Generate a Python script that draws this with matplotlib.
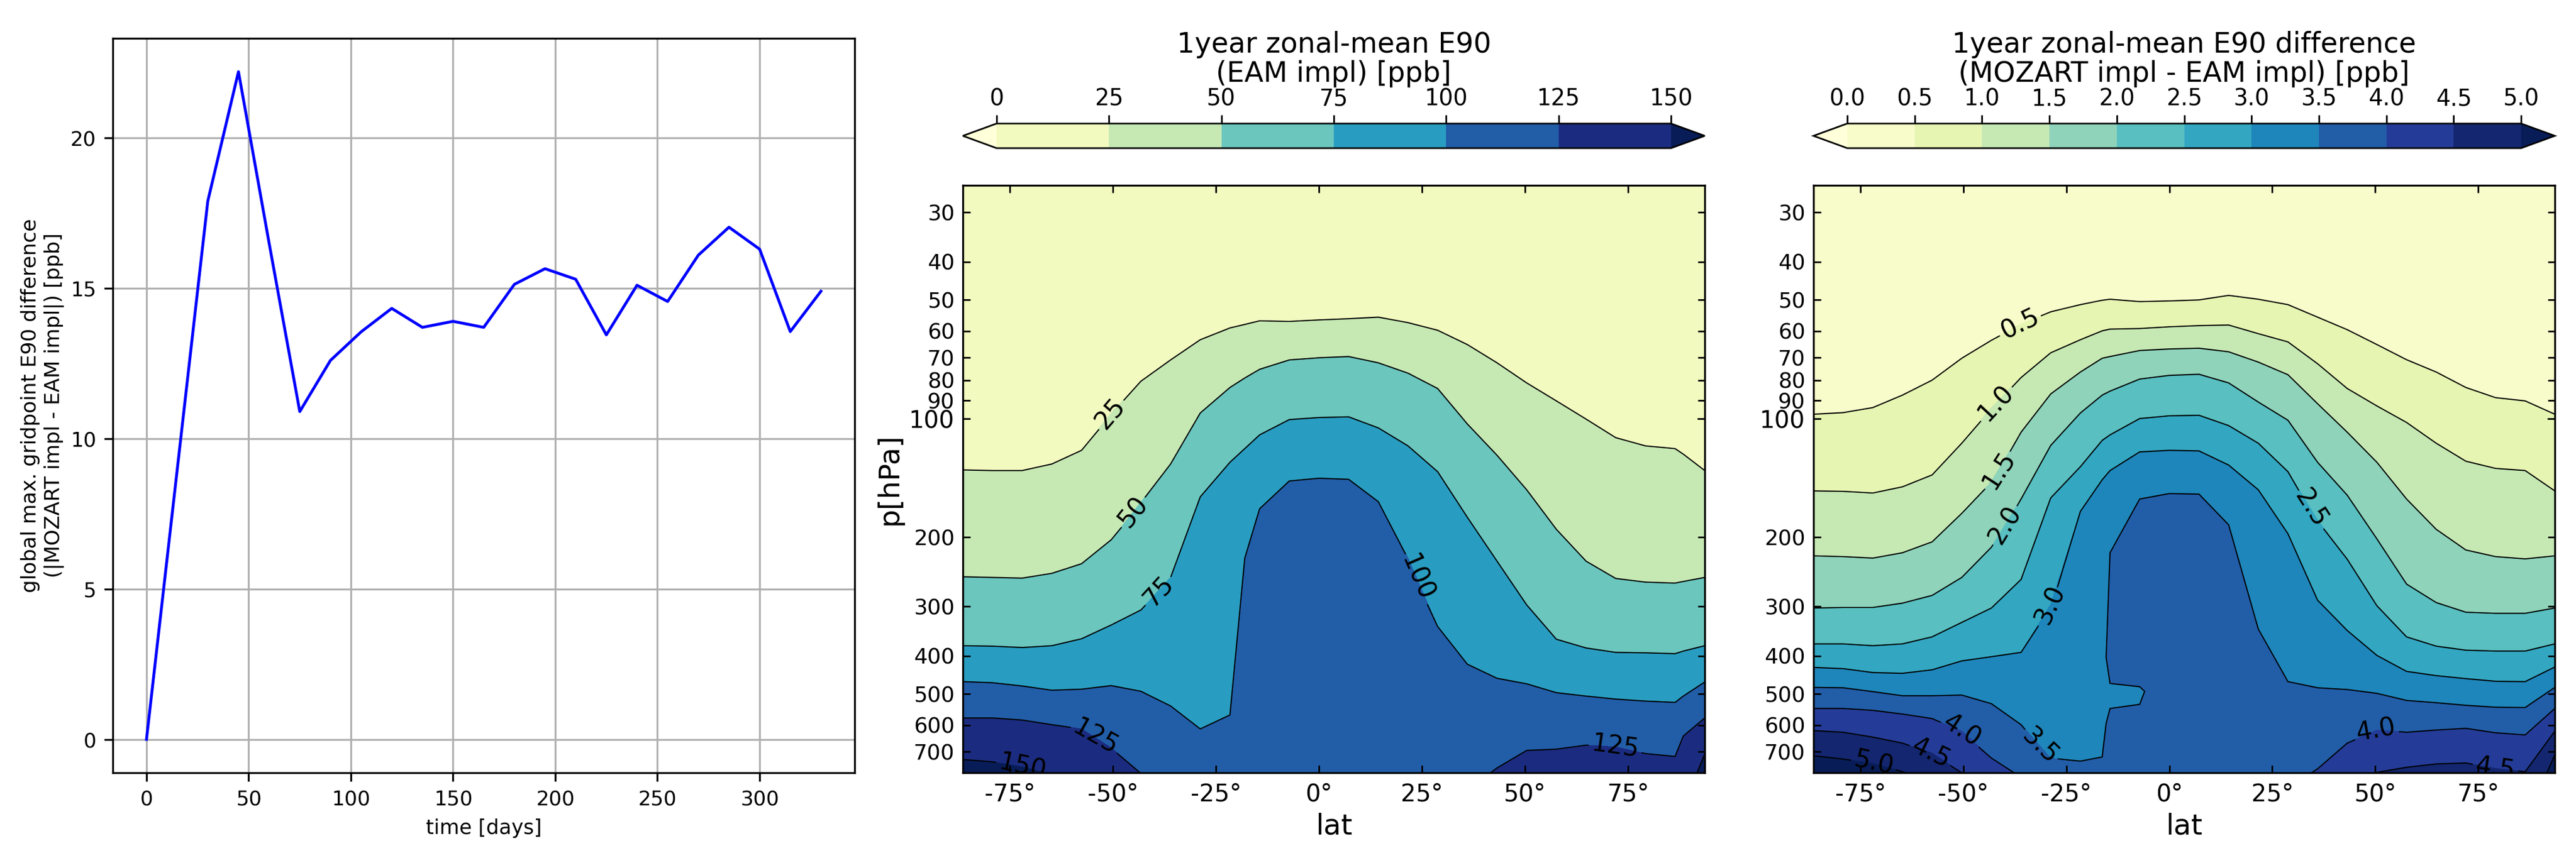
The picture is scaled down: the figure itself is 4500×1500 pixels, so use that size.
import numpy as np
import matplotlib
matplotlib.use('Agg')
import matplotlib.pyplot as plt
from matplotlib.ticker import FixedLocator, FixedFormatter

# time series of the global max difference
days = [0, 15, 30, 45, 60, 75, 90, 105, 120, 135, 150, 165, 180, 195, 210, 225, 240, 255, 270, 285, 300, 315, 330]
max_diff = [0, 8.95, 17.9, 22.2, 16.5, 10.9, 12.6, 13.55, 14.33, 13.7, 13.9, 13.7, 15.13, 15.65, 15.3, 13.45,
            15.1, 14.56, 16.1, 17.03, 16.3, 13.56, 14.9]

# EAM panel: pressure [hPa] of every contour level at each latitude
lat_eam = [-86.4, -79.2, -72, -64.8, -57.6, -50.4, -43.2, -36, -28.8, -21.6, -18, -14.4, -7.2, 0, 7.2, 14.4, 21.6,
           28.8, 36, 43.2, 50.4, 57.6, 64.8, 72, 79.2, 86.4, 88.4, 93.6]
eam_25 = [135, 135.5, 135.5, 130.4, 120.4, 96.8, 80.4, 71, 63.1, 58.9, 57.7, 56.5, 56.7, 56.2, 55.8, 55.3, 57.1,
          59.7, 64.9, 72.2, 81.2, 90.2, 100.3, 111.8, 117.3, 119.2, 123.1, 135.5]
eam_50 = [252, 253, 254, 247, 233.5, 203, 163, 130.4, 96.8, 83.4, 78.9, 75, 71, 70.1, 69.6, 72.2, 76.7,
          83.9, 103.2, 123.9, 151.6, 191, 230, 254.5, 260, 261.5, 259, 253]
eam_75 = [377, 378, 381, 377, 362, 334, 306, 253, 158, 129.1, 119.2, 110, 100.6, 99.4, 99, 105.6, 117.3,
          136.4, 178, 230, 297, 363, 382, 392, 393, 395, 389, 377]
eam_100 = [465, 468, 477, 489, 486, 476, 492, 536, 613, 565, 226, 169.4, 144, 141.7, 142.6, 162.5, 226,
           337, 420, 456, 471, 496, 506, 515, 521, 525, 506, 466]
eam_125 = [575, 575, 582, 598, 613, 685, 795, 894, 894, 894, 894, 894, 894, 894, 894, 894, 894,
           894, 875, 770, 695, 690, 674, 681, 708, 720, 639, 575]
eam_150 = [733, 743, 765, 800, 866, 955, 1049, 1157, 1157, 1157, 1157, 1157, 1157, 1157, 1157, 1157, 1157,
           1157, 1100, 1100, 1100, 1100, 1100, 1100, 1100, 986, 961, 710]
eam_levels = [0, 25, 50, 75, 100, 125, 150]

# difference panel
lat_diff = [-86.4, -79.2, -72, -64.8, -57.6, -50.4, -43.2, -36, -28.8, -21.6, -16.3, -14.4, -7.2, 0, 7.2, 14.4,
            21.6, 28.8, 36, 43.2, 50.4, 57.6, 64.8, 72, 79.2, 86.4, 93.6]
diff_05 = [97.5, 96.6, 93.8, 87.2, 79.9, 70.3, 63.3, 57.5, 53.6, 51.4, 50.1, 49.8, 50.5, 50.3, 50, 48.7,
           49.8, 51.4, 55.3, 59.5, 64.9, 70.9, 76.2, 83.4, 88.5, 90.2, 97.5]
diff_10 = [152.6, 153, 154.5, 149, 139, 115.5, 93.8, 78.7, 68.1, 63.1, 59.9, 59.3, 59.1, 58.5, 58.1, 57.9,
           60.9, 63.9, 72.6, 83.9, 92.9, 102.3, 115.5, 128.3, 133.8, 135.5, 152.6]
diff_15 = [223, 224, 226, 219, 205.5, 174, 144.5, 108.3, 86.6, 76.2, 70.3, 69.6, 67.2, 66.6, 66.3, 67.7,
           71.9, 77.4, 91.7, 108.3, 129.1, 160, 191, 215.5, 224, 227, 223]
diff_20 = [302.5, 301.5, 301.5, 294, 281, 253, 212, 160, 117, 96.8, 87.2, 85.2, 79.4, 77.7, 77.2, 81.2,
           90.8, 101, 129.1, 156.5, 202, 263, 293, 310, 312, 312, 302.5]
diff_25 = [373, 373, 377, 373, 358, 329, 302.5, 256, 159, 132.5, 113.6, 110, 100, 98.4, 98.1, 104.2,
           115.5, 136.4, 181, 227.5, 298.5, 358, 378, 387, 389, 389, 373]
diff_30 = [428, 431, 441, 443, 434, 412, 402, 392, 296, 172, 143, 135.5, 121.5, 120.4, 120.8, 131.2,
           151.6, 196, 289, 345, 399, 438, 449, 457, 464, 465, 427]
diff_35 = [481, 482, 493, 505, 505, 503, 529, 598, 727, 740, 722, 219, 160, 155, 155.5, 186,
           342, 465, 482, 487, 498, 519, 526, 534, 540, 541, 481]
diff_40 = [544, 544, 550, 562, 577, 621, 727, 813, 866, 866, 866, 866, 866, 866, 866, 866,
           866, 866, 774, 666, 617, 625, 617, 611, 627, 635, 544]
diff_45 = [619, 625, 643, 666, 706, 792, 894, 986, 986, 986, 986, 986, 986, 986, 986, 986,
           986, 986, 955, 866, 790, 767, 752, 748, 772, 787, 621]
diff_50 = [717, 731, 750, 787, 840, 924, 1049, 1157, 1157, 1157, 1157, 1157, 1157, 1157, 1157, 1157,
           1157, 1157, 1100, 1100, 1100, 1100, 1100, 1100, 1100, 1059, 713]
diff_levels = [0, .5, 1, 1.5, 2, 2.5, 3, 3.5, 4, 4.5, 5]
# tongue of lower values near 500 hPa, south of the equator: (lat index, pressures, values)
tongue_p = {11: [433, 507, 581], 12: [359, 503, 671]}
tongue_z = {11: [3.75, 3.25, 3.75], 12: [3.75, 3.45, 3.75]}
wall = 11  # first column where the 3.5 line sits on the dome

# where the labels sit
eam_labels = [(-50.3, 97.5), (-45.2, 172), (-38.3, 278), (24, 253), (-53.9, 633), (72, 660), (-71.8, 757)]
diff_labels = [(-36.4, 57.5), (-43, 89.4), (-41.3, 135.5), (-40.4, 185), (35.4, 167), (-29.3, 295), (-31, 674),
               (-50.2, 617), (50.2, 617), (-57.7, 700), (79, 787), (-71.9, 757)]

lat_ticks = [-75, -50, -25, 0, 25, 50, 75]
lat_ticklabels = ['-75°', '-50°', '-25°', '0°', '25°', '50°', '75°']
p_minor = [30, 40, 50, 60, 70, 80, 90, 200, 300, 400, 500, 600, 700]


def eam_field():
    rows = [eam_25, eam_50, eam_75, eam_100, eam_125, eam_150]
    vals = [25, 50, 75, 100, 125, 150]
    n = len(lat_eam)
    P = np.array([[10.] * n] + rows + [[3000.] * n])
    Z = np.array([[12.] * n] + [[v] * n for v in vals] + [[180.] * n], dtype=float)
    X = np.tile(lat_eam, (len(P), 1))
    return X, P, Z


def diff_field():
    n = len(lat_diff)
    p30, p35, p40 = np.array(diff_30), np.array(diff_35), np.array(diff_40)
    mid_p = np.zeros((5, n))
    mid_z = np.zeros((5, n))
    for i in range(n):
        if i < wall:
            # between the 3.0 line and the 3.5 line
            mid_p[:, i] = [p30[i] + (p35[i] - p30[i]) * k / 5 for k in range(1, 6)]
            mid_z[:, i] = [3.25, 3.25, 3.25, 3.25, 3.5]
        else:
            # 3.5 line first, then up to the 4.0 line
            mid_p[:, i] = [p35[i] + (p40[i] - p35[i]) * k / 5 for k in range(0, 5)]
            mid_z[:, i] = [3.5, 3.75, 3.75, 3.75, 3.75]
    for i in tongue_p:
        mid_p[1:4, i] = tongue_p[i]
        mid_z[1:4, i] = tongue_z[i]
    top = [diff_05, diff_10, diff_15, diff_20, diff_25, diff_30]
    bot = [diff_40, diff_45, diff_50]
    P = np.vstack([[10.] * n, top, mid_p, bot, [3000.] * n])
    Z = np.vstack([[.25] * n, [[v] * n for v in [.5, 1, 1.5, 2, 2.5, 3]], mid_z,
                   [[v] * n for v in [4, 4.5, 5]], [6.] * n])
    X = np.tile(lat_diff, (len(P), 1))
    return X, P, Z


def zonal_panel(rect, cbar_rect, field, levels, labels, fmt, title, cb_ticks, cb_fmt, show_ylabel):
    ax = fig.add_axes(rect)
    X, P, Z = field
    cf = ax.contourf(X, P, Z, levels=levels, cmap='YlGnBu', extend='both')
    cs = ax.contour(X, P, Z, levels=levels, colors='k', linewidths=0.5)
    ax.set_yscale('log')
    ax.set_xlim(-86.4, 93.6)
    ax.set_ylim(792, 25.6)
    ax.clabel(cs, inline=True, fontsize=10.5, fmt=fmt, manual=labels)
    ax.set_xticks(lat_ticks)
    ax.set_xticklabels(lat_ticklabels)
    ax.yaxis.set_major_locator(FixedLocator([100]))
    ax.yaxis.set_major_formatter(FixedFormatter(['100']))
    ax.yaxis.set_minor_locator(FixedLocator(p_minor))
    ax.yaxis.set_minor_formatter(FixedFormatter([str(p) for p in p_minor]))
    ax.tick_params(which='major', direction='in', top=True, right=True, length=3.2, width=0.7, labelsize=10)
    ax.tick_params(axis='y', which='minor', direction='in', right=True, length=3, width=0.7, labelsize=9)
    ax.tick_params(axis='x', labelsize=10, pad=4)
    ax.set_xlabel('lat', fontsize=12, labelpad=2.5)
    if show_ylabel:
        ax.set_ylabel('p[hPa]', fontsize=12, labelpad=2.4)

    cax = fig.add_axes(cbar_rect)
    cb = fig.colorbar(cf, cax=cax, orientation='horizontal')
    cb.set_ticks(cb_ticks)
    cb.set_ticklabels([cb_fmt % t for t in cb_ticks])
    cax.xaxis.set_ticks_position('top')
    cax.tick_params(axis='x', length=3.5, width=0.7, labelsize=9.5, pad=2)
    cb.outline.set_linewidth(0.7)
    cax.set_title(title, fontsize=11.7, pad=2.4, linespacing=1.07)


W, H = 4500., 1500.


def box(x0, x1, y0, y1):
    # pixels measured from the top left to figure fractions
    return [x0 / W, 1 - y1 / H, (x1 - x0) / W, (y1 - y0) / H]


fig = plt.figure(figsize=(15, 5), dpi=300)

ax1 = fig.add_axes(box(197, 1493, 67, 1351))
ax1.plot(days, max_diff, color='b', linewidth=1.2)
ax1.grid(True)
ax1.tick_params(labelsize=8.5)
ax1.set_xlabel('time [days]', fontsize=8.5)
ax1.set_ylabel('global max. gridpoint E90 difference\n(|MOZART impl - EAM impl|) [ppb]', fontsize=8.6,
               labelpad=2.6, linespacing=1.25)

zonal_panel(box(1682, 2978, 324, 1351), box(1682, 2978, 216, 259), eam_field(), eam_levels, eam_labels, '%g',
            '1year zonal-mean E90\n(EAM impl) [ppb]', eam_levels, '%g', True)
zonal_panel(box(3168, 4463, 324, 1351), box(3168, 4463, 216, 259), diff_field(), diff_levels, diff_labels, '%.1f',
            '1year zonal-mean E90 difference\n(MOZART impl - EAM impl) [ppb]', diff_levels, '%.1f', False)

plt.savefig('out.png', dpi=300)
